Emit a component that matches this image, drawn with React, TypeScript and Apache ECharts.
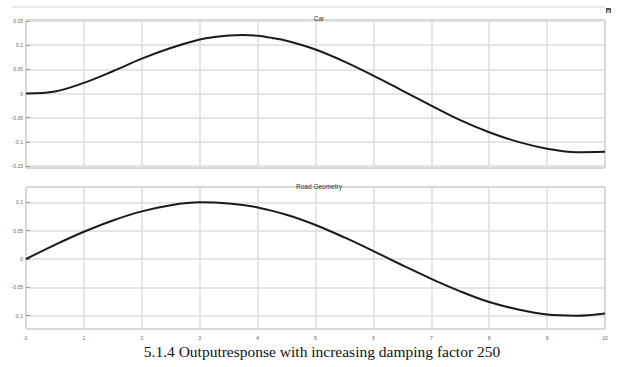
import React, { useEffect, useRef } from "react";
import * as echarts from "echarts";

const carTime = [0, 0.5, 1, 1.5, 2, 2.5, 3, 3.25, 3.5, 3.75, 4, 4.25, 4.5, 5, 5.5, 6, 6.5, 7, 7.5, 8, 8.5, 9, 9.5, 10];
const carValues = [0, 0.004, 0.022, 0.046, 0.072, 0.094, 0.1115, 0.117, 0.1202, 0.1212, 0.1195, 0.115, 0.109, 0.091, 0.066, 0.037, 0.006, -0.025, -0.055, -0.08, -0.1, -0.114, -0.1215, -0.1205];
const roadTime = [0, 0.5, 1, 1.5, 2, 2.5, 3, 3.5, 4, 4.5, 5, 5.5, 6, 6.5, 7, 7.5, 8, 8.5, 9, 9.5, 10];
const roadValues = [0, 0.025, 0.048, 0.068, 0.084, 0.095, 0.1, 0.098, 0.091, 0.078, 0.06, 0.038, 0.014, -0.011, -0.035, -0.057, -0.076, -0.089, -0.098, -0.1, -0.096];
const titles = ["Car", "Road Geometry"];
const caption = "5.1.4 Outputresponse with increasing damping factor 250";

export default function App() {
  const ref = useRef<HTMLDivElement>(null);
  useEffect(() => {
    if (!ref.current) return;
    const chart = echarts.init(ref.current, undefined, { renderer: "svg" });
    const labelStyle = { fontSize: 5, color: "#666", fontFamily: "Liberation Sans" };
    const split = { show: true, lineStyle: { color: "#dcdcdc", width: 1.5 } };
    const xBase = {
      type: "value" as const,
      min: 0,
      max: 10,
      interval: 1,
      axisLine: { show: false },
      axisTick: { show: false },
      splitLine: split,
    };
    const yBase = {
      type: "value" as const,
      axisLine: { show: false },
      axisTick: { show: true, inside: true, length: 4, lineStyle: { color: "#999" } },
      splitLine: split,
    };
    const titleStyle = { fontSize: 6.5, fontWeight: "normal" as const, color: "#333", fontFamily: "Liberation Sans" };
    chart.setOption({
      animation: false,
      backgroundColor: "#fff",
      title: [
        { text: titles[0], left: 314, top: 10, textAlign: "center", textStyle: titleStyle },
        { text: titles[1], left: 314, top: 178, textAlign: "center", textStyle: titleStyle },
      ],
      grid: [
        { left: 26, width: 579, top: 20, height: 148, show: true, borderColor: "#999", borderWidth: 1 },
        { left: 26, width: 579, top: 187, height: 142, show: true, borderColor: "#999", borderWidth: 1 },
      ],
      xAxis: [
        { ...xBase, gridIndex: 0, axisLabel: { show: false } },
        { ...xBase, gridIndex: 1, axisLabel: { ...labelStyle, margin: 6 } },
      ],
      yAxis: [
        { ...yBase, gridIndex: 0, min: -0.154, max: 0.152, splitNumber: 6, axisLabel: { ...labelStyle, margin: 3, showMinLabel: false, showMaxLabel: false } },
        { ...yBase, gridIndex: 1, min: -0.1235, max: 0.127, splitNumber: 5, axisLabel: { ...labelStyle, margin: 3, showMinLabel: false, showMaxLabel: false } },
      ],
      series: [
        {
          type: "line",
          xAxisIndex: 0,
          yAxisIndex: 0,
          data: carTime.map((t, i) => [t, carValues[i]]),
          smooth: 0.35,
          showSymbol: false,
          lineStyle: { color: "#1a1a1a", width: 2 },
        },
        {
          type: "line",
          xAxisIndex: 1,
          yAxisIndex: 1,
          data: roadTime.map((t, i) => [t, roadValues[i]]),
          smooth: 0.35,
          showSymbol: false,
          lineStyle: { color: "#1a1a1a", width: 2 },
        },
      ],
      graphic: [
        { type: "line", shape: { x1: 12, y1: 7, x2: 605, y2: 7 }, style: { stroke: "#d0d0d0", lineWidth: 1 } },
        { type: "rect", shape: { x: 606, y: 8, width: 5, height: 5 }, style: { fill: "#555" } },
        { type: "rect", shape: { x: 607, y: 10, width: 3, height: 3 }, style: { fill: "#bbb" } },
        {
          type: "text",
          x: 322,
          y: 359,
          style: {
            text: caption,
            fontFamily: "Liberation Serif",
            fontSize: 15.5,
            fill: "#111",
            textAlign: "center",
            textVerticalAlign: "bottom",
          },
        },
      ],
    });
    return () => chart.dispose();
  }, []);
  return <div ref={ref} style={{ width: 626, height: 367, position: "absolute", left: 0, top: 0 }} />;
}
